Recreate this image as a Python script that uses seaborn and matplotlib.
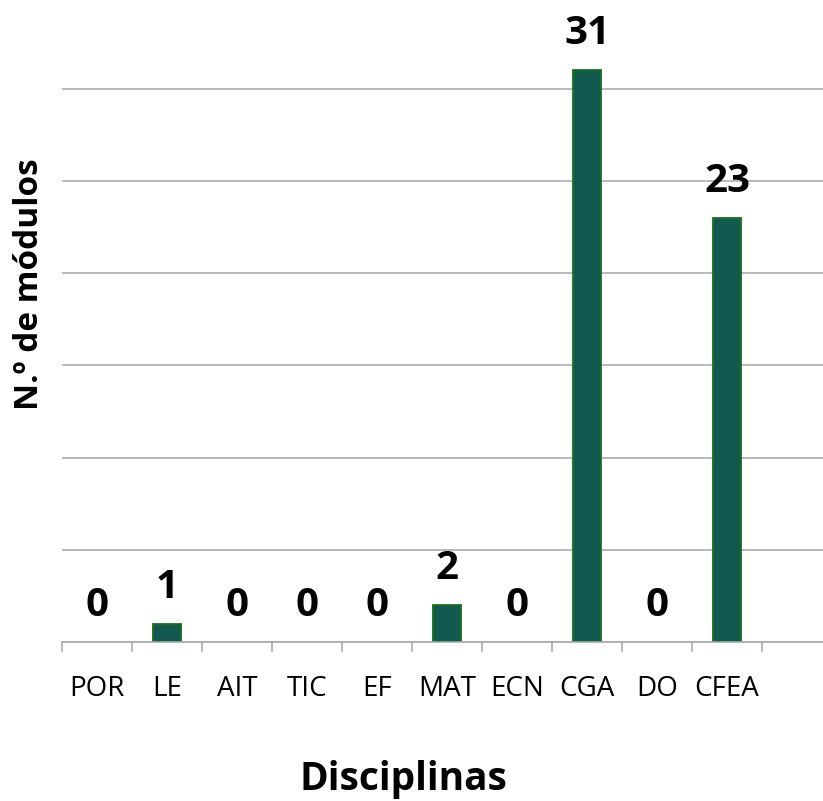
import matplotlib
matplotlib.use("Agg")
import matplotlib.pyplot as plt
import pandas as pd
import seaborn as sns

# Chart data
disciplinas = ["POR", "LE", "AIT", "TIC", "EF", "MAT", "ECN", "CGA", "DO", "CFEA"]
modulos = [0, 1, 0, 0, 0, 2, 0, 31, 0, 23]

df = pd.DataFrame({"Disciplina": disciplinas, "Modulos": modulos})

sns.set_style("white")
plt.rcParams["font.family"] = ["Open Sans", "DejaVu Sans"]
plt.rcParams["text.color"] = "black"
plt.rcParams["xtick.color"] = "black"

W, H = 823, 801
fig = plt.figure(figsize=(W / 100, H / 100), dpi=100)
# axes: 0 line at y=642px, left edge x=62px, runs off the right/top of the canvas
ax = fig.add_axes([62 / W, (H - 642) / H, (W - 62) / W, 642 / H])

sns.barplot(data=df, x="Disciplina", y="Modulos", order=disciplinas,
            color="#125A4F", saturation=1, width=0.41,
            edgecolor="#1A6E1C", linewidth=1.3, ax=ax)

# no outline for empty bars
for p in ax.patches:
    if p.get_height() == 0:
        p.set_linewidth(0)

px_per_cat = 70
ax.set_xlim(-0.5, -0.5 + (W - 62) / px_per_cat)
px_per_unit = 18.45
ax.set_ylim(0, 642 / px_per_unit)

# gridlines every 5
ax.set_yticks(range(0, 31, 5))
ax.yaxis.grid(True, color="#A6A6A6", linewidth=1.1)
ax.set_axisbelow(True)
ax.tick_params(axis="y", left=False, labelleft=False)

# category boundary ticks below the axis
ax.set_xticks([i - 0.5 for i in range(len(disciplinas) + 1)], minor=True)
ax.tick_params(axis="x", which="minor", length=7.5, width=1.1, color="#A6A6A6",
               direction="out", bottom=True)
ax.tick_params(axis="x", which="major", length=0, pad=24, labelsize=20,
               labelcolor="black")
ax.set_xlabel("")
ax.set_ylabel("")

for s in ["left", "right", "top"]:
    ax.spines[s].set_visible(False)
ax.spines["bottom"].set_color("#A6A6A6")
ax.spines["bottom"].set_linewidth(1.1)

# value labels
for cont in ax.containers:
    ax.bar_label(cont, labels=[str(v) for v in modulos], padding=12,
                 fontsize=29, fontweight="bold", color="black")

fig.text(403 / W, (H - 790) / H, "Disciplinas", ha="center", va="baseline",
         fontsize=28, fontweight="bold")
fig.text(30 / W, (H - 284) / H, "N.º de módulos", ha="center", va="center",
         rotation=90, fontsize=24, fontweight="bold")

fig.savefig("out.png", dpi=100)
